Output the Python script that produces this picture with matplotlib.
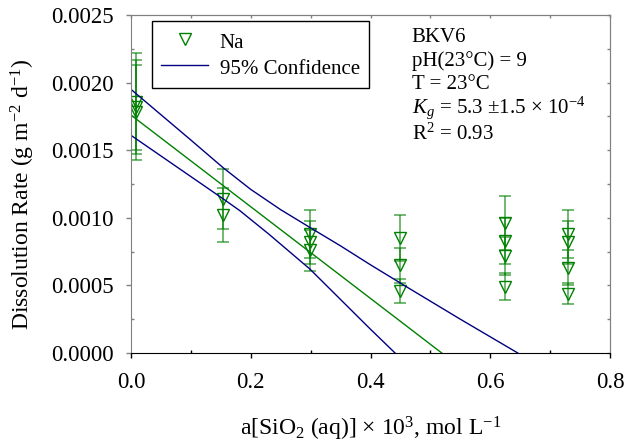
import numpy as np
import matplotlib
matplotlib.use('Agg')
import matplotlib.pyplot as plt
from matplotlib.lines import Line2D
from matplotlib.ticker import MultipleLocator, FormatStrFormatter

plt.rcParams['font.family'] = 'Liberation Serif'
plt.rcParams['mathtext.fontset'] = 'custom'
plt.rcParams['mathtext.rm'] = 'Liberation Serif'
plt.rcParams['mathtext.it'] = 'Liberation Serif:italic'
plt.rcParams['font.size'] = 15

# Na release rates vs dissolved silica activity (BKV6)
sio2 = [0.008, 0.008, 0.008,
        0.154, 0.154,
        0.299, 0.299, 0.299,
        0.450, 0.450, 0.450,
        0.625, 0.625, 0.625, 0.625,
        0.730, 0.730, 0.730, 0.730]
rate = [0.00186, 0.00182, 0.00178,
        0.00114, 0.00102,
        0.00088, 0.00082, 0.00076,
        0.00085, 0.00065, 0.00046,
        0.00096, 0.00083, 0.00072, 0.00049,
        0.00088, 0.00082, 0.00063, 0.00044]
rate_err = [0.00036, 0.00035, 0.00035,
            0.00022, 0.00020,
            0.00018, 0.00016, 0.00015,
            0.00017, 0.00013, 0.00009,
            0.00020, 0.00017, 0.00014, 0.00010,
            0.00018, 0.00016, 0.00013, 0.00008]

# linear fit and 95% confidence band
fit_x = [0.0, 0.519]
fit_y = [0.00176, 0.0]
upper_x = [0.0, 0.10, 0.154, 0.20, 0.25, 0.302, 0.349, 0.399, 0.460, 0.550, 0.646]
upper_y = [0.00195, 0.001575, 0.00137, 0.00121, 0.00106, 0.00092, 0.000795, 0.000655,
           0.00049, 0.00025, 0.0]
lower_x = [0.0, 0.154, 0.182, 0.230, 0.299, 0.349, 0.399, 0.441]
lower_y = [0.00161, 0.00114, 0.001052, 0.00088, 0.00062, 0.00040, 0.00018, 0.0]

green = '#008000'
navy = '#000080'

fig = plt.figure(figsize=(6.35, 4.45), dpi=100)
ax = fig.add_axes([131/635, 1 - 353/445, 479/635, 338/445])

ax.errorbar(sio2, rate, yerr=rate_err, fmt='none', ecolor=green, elinewidth=1.3,
            capsize=4, capthick=1.3, alpha=0.6)
ax.plot(sio2, rate, 'v', ms=9, mfc='none', mec=green, mew=1.0)
ax.plot(fit_x, fit_y, color=green, lw=1.0)
ax.plot(upper_x, upper_y, color=navy, lw=1.0)
ax.plot(lower_x, lower_y, color=navy, lw=1.0)

ax.set_xlim(0, 0.8)
ax.set_ylim(0, 0.0025)
ax.xaxis.set_major_locator(MultipleLocator(0.2))
ax.xaxis.set_minor_locator(MultipleLocator(0.1))
ax.yaxis.set_major_locator(MultipleLocator(0.0005))
ax.yaxis.set_minor_locator(MultipleLocator(0.00025))
ax.xaxis.set_major_formatter(FormatStrFormatter('%.1f'))
ax.yaxis.set_major_formatter(FormatStrFormatter('%.4f'))

for side in ['left', 'top', 'right']:
    ax.spines[side].set_color('#808080')
ax.spines['bottom'].set_color('black')
ax.tick_params(which='major', direction='out', length=3.6, width=1, labelsize=16.5)
ax.tick_params(which='minor', direction='in', length=2.5, width=1)
ax.tick_params(axis='y', which='both', color='#808080')
ax.tick_params(axis='y', which='major', pad=9)
ax.tick_params(axis='x', which='both', color='black')
ax.tick_params(axis='x', which='major', pad=10)

top = ax.secondary_xaxis('top')
top.xaxis.set_major_locator(MultipleLocator(0.1))
top.tick_params(direction='in', length=2.5, width=1, color='#808080', labeltop=False)
top.spines['top'].set_color('#808080')
right = ax.secondary_yaxis('right')
right.yaxis.set_major_locator(MultipleLocator(0.00025))
right.tick_params(direction='in', length=2.5, width=1, color='#808080', labelright=False)
right.spines['right'].set_color('#808080')

ax.set_xlabel(r'a[SiO$_2$ (aq)] $\times$ 10$^3$, mol L$^{-1}$', fontsize=17)
ax.set_ylabel(r'Dissolution Rate (g m$^{-2}$ d$^{-1}$)', fontsize=17)
ax.xaxis.set_label_coords(0.5, -0.183)
ax.yaxis.set_label_coords(-0.196, 0.47)

handles = [Line2D([], [], ls='none', marker='v', ms=9, mfc='none', mec=green, mew=1.0),
           Line2D([], [], color=navy, lw=1.0)]
leg = ax.legend(handles, ['Na', '95% Confidence'], loc='upper left',
                bbox_to_anchor=(0.0438, 0.982), borderaxespad=0, fancybox=False,
                framealpha=1, edgecolor='black', handlelength=2.24, handletextpad=0.56,
                handleheight=1.2, borderpad=0.45, labelspacing=0.13, fontsize=15)
leg.get_frame().set_linewidth(1.0)

info = ['BKV6', 'pH(23°C) = 9', 'T = 23°C',
        r'$K_g$ = 5.3 ±1.5 $\times$ 10$^{-4}$', r'R$^2$ = 0.93']
info_y = [0.919, 0.848, 0.780, 0.712, 0.630]
for s, yy in zip(info, info_y):
    ax.text(0.586, yy, s, transform=ax.transAxes, fontsize=15, va='baseline', ha='left')

fig.savefig('out.png', dpi=100)
